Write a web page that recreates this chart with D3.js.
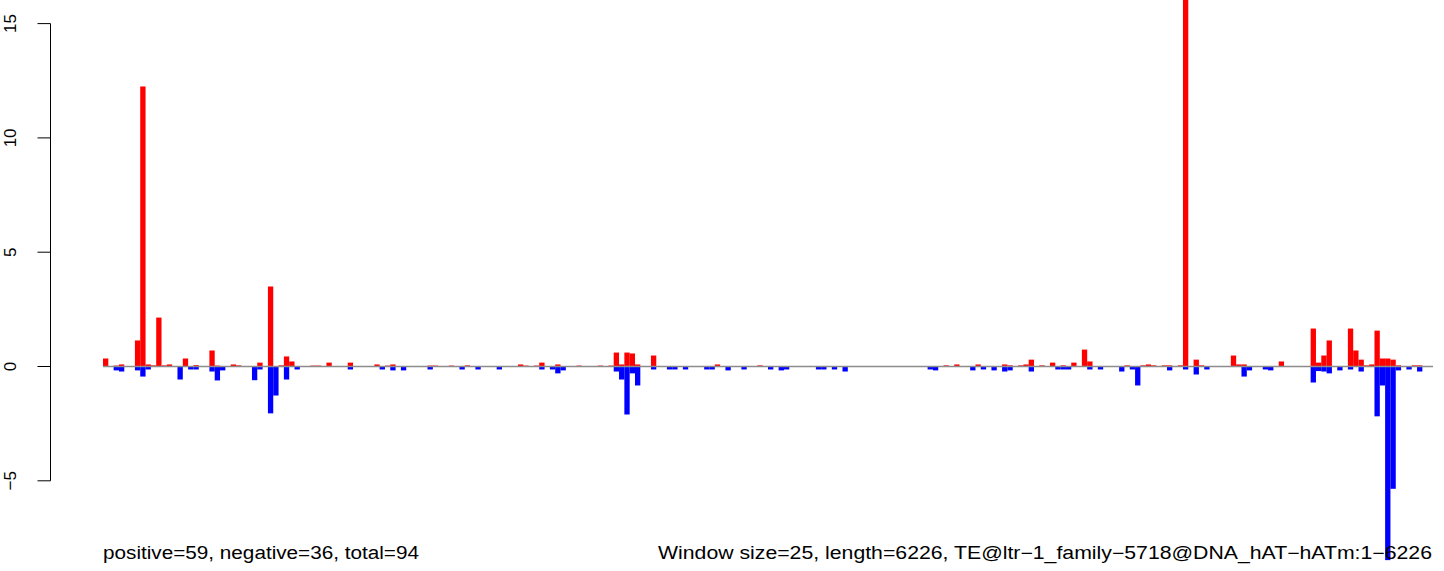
<!DOCTYPE html>
<html>
<head>
<meta charset="utf-8">
<script src="https://cdn.jsdelivr.net/npm/d3@7"></script>
<style>
  html, body { margin: 0; padding: 0; background: #fff; }
  svg { display: block; }
</style>
</head>
<body>
<div id="chart"></div>
<script>
// window values along the TE (window size 25, 250 windows)
const nWindows = 250;

// positive (red) per window, sparse: [window, value]
const positive = [
  [0, 0.35], [2, 0.04], [3, 0.09], [6, 1.14], [7, 12.25], [8, 0.09], [9, 0.05], [10, 2.14],
  [11, 0.05], [12, 0.09], [15, 0.35], [17, 0.06], [20, 0.7], [21, 0.04], [24, 0.09], [25, 0.05],
  [29, 0.17], [31, 3.5], [33, 0.05], [34, 0.44], [35, 0.22], [39, 0.04], [40, 0.04], [42, 0.17],
  [46, 0.17], [51, 0.09], [53, 0.04], [54, 0.09], [61, 0.04], [62, 0.04], [65, 0.04], [68, 0.05],
  [78, 0.09], [79, 0.04], [81, 0.04], [82, 0.17], [85, 0.09], [89, 0.04], [93, 0.04], [95, 0.04],
  [96, 0.61], [97, 0.09], [98, 0.61], [99, 0.57], [100, 0.09], [103, 0.48], [115, 0.09], [123, 0.05],
  [158, 0.05], [160, 0.09], [164, 0.09], [169, 0.09], [170, 0.05], [172, 0.05], [173, 0.09], [174, 0.3],
  [176, 0.05], [178, 0.17], [180, 0.05], [182, 0.17], [184, 0.74], [185, 0.22], [192, 0.05], [195, 0.05],
  [196, 0.09], [197, 0.05], [199, 0.05], [200, 0.05], [202, 0.05], [203, 16.5], [205, 0.3], [206, 0.05],
  [212, 0.48], [213, 0.09], [214, 0.09], [221, 0.22], [227, 1.66], [228, 0.17], [229, 0.48], [230, 1.14],
  [234, 1.66], [235, 0.7], [236, 0.3], [237, 0.05], [238, 0.09], [239, 1.57], [240, 0.35], [241, 0.35],
  [242, 0.3], [243, 0.05], [246, 0.05], [247, 0.05]
];

// negative (blue) per window
const negative = [
  [2, -0.17], [3, -0.22], [6, -0.17], [7, -0.44], [8, -0.13], [14, -0.57], [16, -0.13], [17, -0.13],
  [20, -0.22], [21, -0.61], [22, -0.17], [28, -0.6], [29, -0.13], [31, -2.05], [32, -1.27], [34, -0.57],
  [36, -0.13], [46, -0.13], [52, -0.13], [54, -0.17], [56, -0.17], [61, -0.13], [67, -0.13], [70, -0.13],
  [74, -0.13], [82, -0.13], [84, -0.13], [85, -0.3], [86, -0.17], [96, -0.22], [97, -0.57], [98, -2.1],
  [99, -0.3], [100, -0.83], [103, -0.13], [106, -0.13], [107, -0.13], [109, -0.13], [113, -0.13], [114, -0.13],
  [117, -0.17], [120, -0.13], [125, -0.13], [127, -0.17], [128, -0.13], [134, -0.13], [135, -0.13], [137, -0.13],
  [139, -0.22], [155, -0.13], [156, -0.17], [163, -0.17], [165, -0.13], [167, -0.17], [169, -0.22], [170, -0.17],
  [174, -0.22], [179, -0.13], [180, -0.13], [181, -0.13], [185, -0.13], [187, -0.13], [191, -0.22], [193, -0.13],
  [194, -0.83], [200, -0.17], [203, -0.13], [205, -0.35], [207, -0.13], [214, -0.44], [215, -0.17], [218, -0.13],
  [219, -0.17], [227, -0.7], [228, -0.2], [229, -0.22], [230, -0.3], [232, -0.17], [234, -0.13], [236, -0.22],
  [239, -2.18], [240, -0.83], [241, -8.47], [242, -5.35], [243, -0.17], [245, -0.13], [247, -0.22]
];

const yTicks = [-5, 0, 5, 10, 15];
const leftNote = "positive=59, negative=36, total=94";
const rightNote = "Window size=25, length=6226, TE@ltr\u22121_family\u22125718@DNA_hAT\u2212hATm:1\u22126226";

const W = 1444, H = 571;

const svg = d3.select("#chart").append("svg")
    .attr("width", W)
    .attr("height", H)
    .style("font-family", "'Liberation Sans', Arial, sans-serif");

const x = d3.scaleLinear()
    .domain([0, nWindows])
    .range([103, 1433]);

const y = d3.scaleLinear()
    .domain([-5, 15])
    .range([480.8, 23.6]);

const bw = x(1) - x(0);

svg.append("g")
    .selectAll("rect")
    .data(positive)
    .enter()
    .append("rect")
    .attr("x", d => x(d[0]))
    .attr("width", bw)
    .attr("y", d => y(d[1]))
    .attr("height", d => y(0) - y(d[1]))
    .attr("fill", "#ff0000");

svg.append("g")
    .selectAll("rect")
    .data(negative)
    .enter()
    .append("rect")
    .attr("x", d => x(d[0]))
    .attr("width", bw)
    .attr("y", y(0))
    .attr("height", d => y(d[1]) - y(0))
    .attr("fill", "#0000ff");

// zero line
svg.append("line")
    .attr("x1", x(0))
    .attr("x2", x(nWindows))
    .attr("y1", y(0))
    .attr("y2", y(0))
    .attr("stroke", "#8c8c8c")
    .attr("stroke-width", 1.3);

// y axis, R style: ticks out left, labels rotated
const axisX = 50.5;
const yAxis = svg.append("g");
yAxis.append("line")
    .attr("x1", axisX).attr("x2", axisX)
    .attr("y1", y(yTicks[0])).attr("y2", y(yTicks[yTicks.length - 1]))
    .attr("stroke", "#000");
yAxis.selectAll(".tick")
    .data(yTicks)
    .enter()
    .append("line")
    .attr("x1", axisX - 13).attr("x2", axisX)
    .attr("y1", d => y(d)).attr("y2", d => y(d))
    .attr("stroke", "#000");
yAxis.selectAll("text")
    .data(yTicks)
    .enter()
    .append("text")
    .attr("transform", d => `translate(15.5,${y(d)}) rotate(-90)`)
    .attr("text-anchor", "middle")
    .attr("font-size", "17px")
    .text(d => d < 0 ? "\u2212" + Math.abs(d) : d);

svg.append("text")
    .attr("x", 103)
    .attr("y", 559)
    .attr("font-size", "17.6px")
    .attr("textLength", 316)
    .attr("lengthAdjust", "spacingAndGlyphs")
    .text(leftNote);

svg.append("text")
    .attr("x", 658)
    .attr("y", 559)
    .attr("font-size", "17.6px")
    .attr("textLength", 774)
    .attr("lengthAdjust", "spacingAndGlyphs")
    .text(rightNote);
</script>
</body>
</html>
